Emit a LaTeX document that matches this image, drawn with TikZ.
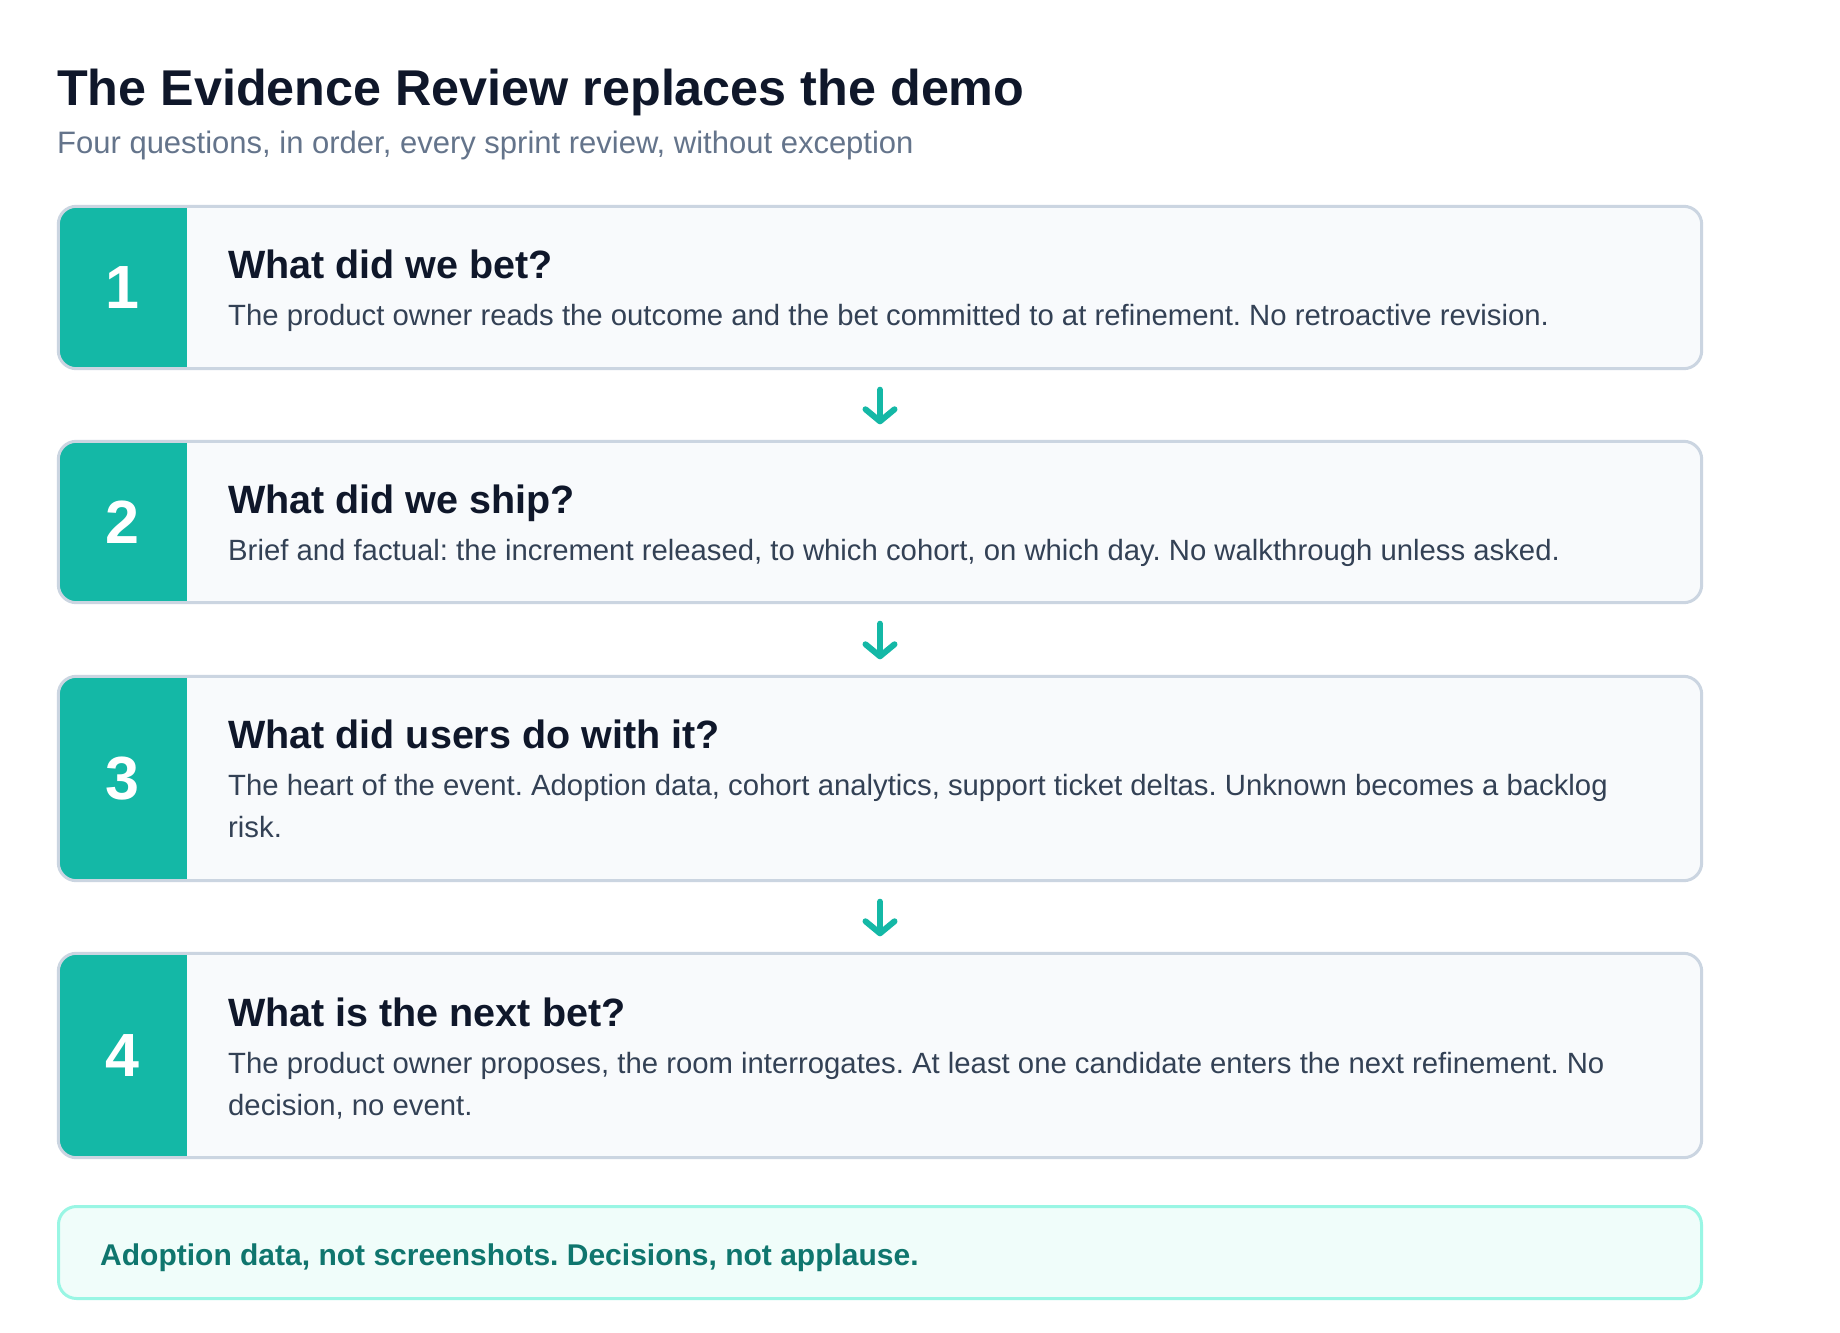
\documentclass[tikz,border=0pt]{standalone}
\usepackage{fontspec}
\setmainfont{Liberation Sans}
\usetikzlibrary{arrows.meta}
\definecolor{tealc}{HTML}{14B8A6}
\definecolor{cardfill}{HTML}{F8FAFC}
\definecolor{cardline}{HTML}{CBD5E1}
\definecolor{headc}{HTML}{0F172A}
\definecolor{bodyc}{HTML}{334155}
\definecolor{subc}{HTML}{64748B}
\definecolor{notefill}{HTML}{F0FDFA}
\definecolor{noteline}{HTML}{99F6E4}
\definecolor{notetext}{HTML}{0F766E}
\frenchspacing
\begin{document}
\begin{tikzpicture}[x=1pt,y=-1pt,
  card/.style={fill=cardfill, inner sep=0pt, minimum width=1643pt, rounded corners=18pt},
  cardborder/.style={draw=cardline, line width=3pt, rounded corners=18pt},
  digit/.style={text=white, font=\fontsize{61}{61}\selectfont\bfseries, inner sep=0pt},
  qtitle/.style={anchor=base west, text=headc, font=\fontsize{39.5}{39.5}\selectfont\bfseries, inner sep=0pt},
  qbody/.style={anchor=base west, text=bodyc, font=\fontsize{29.3}{29.3}\selectfont, inner sep=0pt},
  flow/.style={draw=tealc, line width=6pt, line cap=round, line join=round,
    -{Straight Barb[length=12pt,width=29pt,round]}, shorten <=21pt, shorten >=17pt}
]
\useasboundingbox[fill=white] (0,0) rectangle (1840,1333);

% title
\node[anchor=base west, text=headc, font=\fontsize{50.3}{50.3}\selectfont\bfseries, inner sep=0pt] (title) at (57,105) {The Evidence Review replaces the demo};
\node[anchor=base west, text=subc, font=\fontsize{31}{31}\selectfont, inner sep=0pt] (subtitle) at (57,153) {Four questions, in order, every sprint review, without exception};

% cards
\node[card, minimum height=162pt] (b1) at (880,287.5) {};
\node[card, minimum height=161pt] (b2) at (880,522) {};
\node[card, minimum height=204pt] (b3) at (880,778.5) {};
\node[card, minimum height=204pt] (b4) at (880,1055.5) {};

\foreach \b in {b1,b2,b3,b4}{
  \begin{scope}
    \clip[rounded corners=18pt] (\b.north west) rectangle (\b.south east);
    \fill[tealc] (\b.north west) rectangle ([xshift=128.5pt]\b.south west);
  \end{scope}
  \draw[cardborder] (\b.north west) rectangle (\b.south east);
}

% numbers
\node[digit] (n1) at (122.75,287.5) {1};
\node[digit] (n2) at (122.75,522) {2};
\node[digit] (n3) at (122.75,778.5) {3};
\node[digit] (n4) at (122.75,1055.5) {4};

% texts
\node[qtitle] (t1) at (228,278) {What did we bet?};
\node[qbody] (d1) at (228,325) {The product owner reads the outcome and the bet committed to at refinement. No retroactive revision.};

\node[qtitle] (t2) at (228,513) {What did we ship?};
\node[qbody] (d2) at (228,560) {Brief and factual: the increment released, to which cohort, on which day. No walkthrough unless asked.};

\node[qtitle] (t3) at (228,748) {What did users do with it?};
\node[qbody] (d3a) at (228,795) {The heart of the event. Adoption data, cohort analytics, support ticket deltas. Unknown becomes a backlog};
\node[qbody] (d3b) at (228,837) {risk.};

\node[qtitle] (t4) at (228,1026) {What is the next bet?};
\node[qbody] (d4a) at (228,1073) {The product owner proposes, the room interrogates. At least one candidate enters the next refinement. No};
\node[qbody] (d4b) at (228,1115) {decision, no event.};

% arrows
\draw[flow] (b1.south) -- (b2.north);
\draw[flow] (b2.south) -- (b3.north);
\draw[flow] (b3.south) -- (b4.north);

% callout
\node[fill=notefill, draw=noteline, line width=3pt, rounded corners=18pt, minimum width=1643pt, minimum height=92pt, inner sep=0pt] (note) at (880,1252.5) {};
\node[anchor=base west, text=notetext, font=\fontsize{30}{30}\selectfont\bfseries, inner sep=0pt] (notetxt) at (100,1265) {Adoption data, not screenshots. Decisions, not applause.};
\end{tikzpicture}
\end{document}
